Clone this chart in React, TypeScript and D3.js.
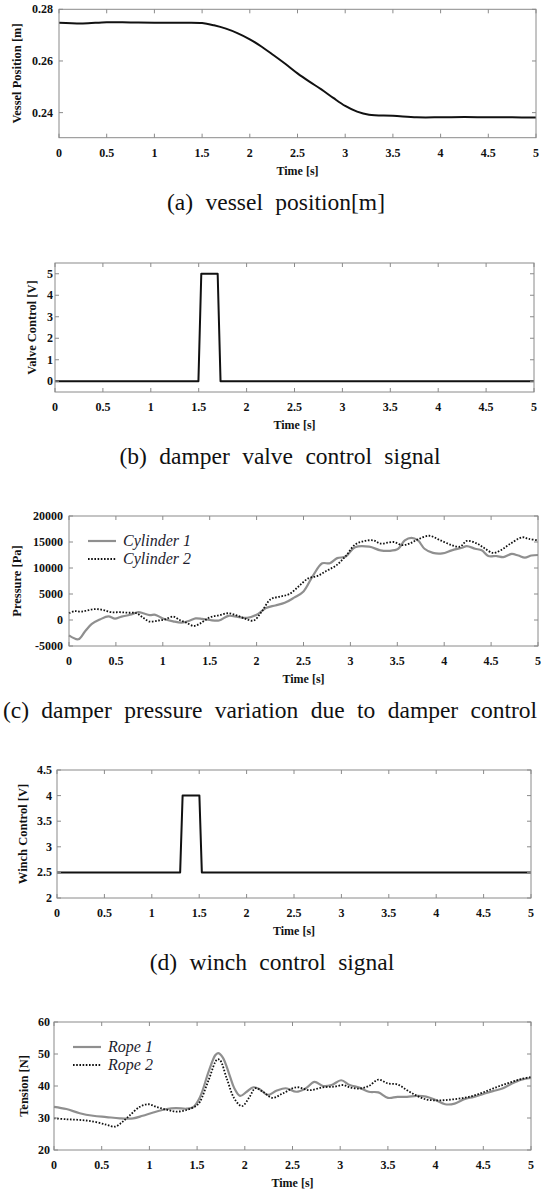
import React from "react";
import * as d3 from "d3";

// ---------------- DATA ----------------
const xTicks = [0, 0.5, 1, 1.5, 2, 2.5, 3, 3.5, 4, 4.5, 5];

// (a) vessel position [m]
const vesselT = [0, 0.25, 0.5, 0.75, 1.0, 1.25, 1.5, 1.625, 1.75, 1.875, 2.0, 2.125, 2.25, 2.375, 2.5, 2.625, 2.75, 2.875, 3.0, 3.125, 3.25, 3.5, 3.75, 4.0, 4.25, 4.5, 4.75, 5.0];
const vesselV = [0.2748, 0.2745, 0.275, 0.2749, 0.2748, 0.2748, 0.2747, 0.2738, 0.2725, 0.2707, 0.2684, 0.2655, 0.2622, 0.2588, 0.2552, 0.252, 0.249, 0.2457, 0.2426, 0.2404, 0.2392, 0.2388, 0.2382, 0.2382, 0.2383, 0.2382, 0.2382, 0.2381];

// (b) damper valve control signal [V]
const valveT = [0, 1.497, 1.527, 1.698, 1.728, 5];
const valveV = [0, 0, 5, 5, 0, 0];

// (c) damper pressure [Pa]
const cyl1T = [0, 0.1, 0.17, 0.24, 0.33, 0.42, 0.49, 0.56, 0.65, 0.74, 0.79, 0.86, 0.92, 1.0, 1.11, 1.2, 1.29, 1.35, 1.42, 1.5, 1.6, 1.7, 1.8, 1.9, 2.0, 2.1, 2.2, 2.3, 2.4, 2.5, 2.6, 2.7, 2.78, 2.86, 2.95, 3.05, 3.2, 3.32, 3.42, 3.51, 3.58, 3.65, 3.72, 3.79, 3.88, 3.98, 4.08, 4.19, 4.24, 4.33, 4.4, 4.47, 4.56, 4.63, 4.72, 4.79, 4.86, 4.93, 5.0];
const cyl1V = [-2950, -3700, -2200, -800, 100, 700, 250, 650, 1000, 1500, 1300, 950, 1000, 300, -250, -500, -100, 300, 200, 0, -100, 800, 600, 400, 1000, 2300, 2800, 3300, 4300, 5500, 8500, 10900, 10900, 11900, 12200, 14000, 14100, 13400, 13300, 13700, 15300, 15800, 15300, 13700, 12900, 12800, 13400, 13900, 14200, 13700, 13400, 12300, 12300, 12100, 12700, 12400, 12000, 12400, 12500];
const cyl2T = [0, 0.06, 0.13, 0.21, 0.29, 0.37, 0.45, 0.54, 0.63, 0.72, 0.79, 0.86, 0.95, 1.02, 1.11, 1.18, 1.25, 1.33, 1.4, 1.5, 1.6, 1.7, 1.8, 1.9, 1.97, 2.05, 2.15, 2.25, 2.35, 2.45, 2.55, 2.65, 2.75, 2.85, 2.95, 3.05, 3.15, 3.25, 3.32, 3.46, 3.55, 3.63, 3.72, 3.84, 3.95, 4.08, 4.17, 4.24, 4.35, 4.43, 4.52, 4.6, 4.7, 4.83, 4.9, 5.0];
const cyl2V = [1300, 1700, 1600, 1900, 2100, 1900, 1500, 1500, 1400, 1300, 450, -300, -100, 100, 650, 0, -500, -1150, -650, 500, 900, 1300, 800, 100, -100, 1500, 4000, 4500, 5000, 6500, 8000, 8500, 9500, 10500, 12300, 14500, 15200, 15300, 14700, 15000, 14400, 14700, 15500, 16200, 15400, 14400, 14100, 15200, 14700, 13800, 12900, 13400, 14600, 15900, 15600, 15300];

// (d) winch control signal [V]
const winchT = [0, 1.299, 1.325, 1.502, 1.528, 5];
const winchV = [2.5, 2.5, 4, 4, 2.5, 2.5];

// (e) rope tension [N]
const rope1T = [0, 0.13, 0.27, 0.41, 0.55, 0.69, 0.83, 0.93, 1.04, 1.18, 1.28, 1.39, 1.46, 1.53, 1.62, 1.69, 1.72, 1.77, 1.84, 1.89, 1.95, 2.02, 2.09, 2.16, 2.24, 2.33, 2.43, 2.54, 2.64, 2.73, 2.82, 2.91, 3.01, 3.1, 3.2, 3.3, 3.4, 3.5, 3.6, 3.7, 3.8, 3.9, 4.0, 4.1, 4.2, 4.3, 4.4, 4.5, 4.6, 4.7, 4.8, 4.9, 5.0];
const rope1V = [33.5, 32.8, 31.5, 30.7, 30.3, 29.9, 29.9, 30.7, 31.7, 32.8, 33.1, 32.9, 33.4, 36.5, 44.4, 49.6, 50.3, 48.9, 43.4, 39.3, 36.9, 38.2, 39.6, 38.9, 37.2, 38.5, 39.3, 38.2, 39.3, 41.3, 40.0, 40.3, 41.8, 40.3, 39.5, 38.2, 38.0, 36.3, 36.6, 36.6, 36.9, 36.7, 35.6, 34.3, 34.5, 35.9, 36.6, 37.5, 38.4, 39.2, 40.8, 42.0, 42.5];
const rope2T = [0, 0.13, 0.27, 0.41, 0.55, 0.64, 0.71, 0.79, 0.9, 0.99, 1.07, 1.18, 1.28, 1.39, 1.49, 1.53, 1.62, 1.71, 1.74, 1.81, 1.89, 1.97, 2.05, 2.11, 2.19, 2.29, 2.4, 2.54, 2.68, 2.82, 2.94, 3.03, 3.1, 3.2, 3.3, 3.4, 3.5, 3.6, 3.7, 3.8, 3.9, 4.0, 4.1, 4.2, 4.3, 4.4, 4.5, 4.6, 4.7, 4.8, 4.9, 5.0];
const rope2V = [29.9, 29.6, 29.4, 28.9, 27.9, 27.3, 28.6, 30.7, 33.5, 34.3, 33.5, 32.6, 32.0, 32.5, 33.8, 35.1, 41.8, 48.3, 48.1, 42.4, 36.1, 33.7, 36.6, 39.3, 38.2, 36.3, 37.7, 39.6, 38.7, 39.6, 39.8, 40.3, 39.6, 39.2, 40.0, 42.0, 40.8, 40.5, 38.7, 37.0, 35.8, 35.5, 35.6, 35.9, 36.3, 37.0, 38.0, 39.2, 40.3, 41.3, 42.2, 42.8];

// ---------------- STYLE ----------------
const SERIF = "'Liberation Serif', 'Times New Roman', Times, serif";
const BOX = "#8a8a8a";
const GRAY_LINE = "#8f8f8f";

type Series = { t: number[]; v: number[]; color: string; width: number; dash?: string; curve: any };
type Legend = { x: number; y: number; items: { label: string; color: string; width: number; dash?: string }[] };

type PanelProps = {
  left: number; right: number; top: number; bottom: number;
  yDomain: [number, number]; yTicks: number[]; yFmt: (v: number) => string;
  yTitle: string; yTitleX: number; yLabelGap: number;
  caption: string; captionX: number; captionWS: number;
  series: Series[]; legend?: Legend;
};

function Panel(p: PanelProps) {
  const x = d3.scaleLinear().domain([0, 5]).range([p.left, p.right]);
  const y = d3.scaleLinear().domain(p.yDomain).range([p.bottom, p.top]);
  const tk = 4;
  const cy = (p.top + p.bottom) / 2;
  return (
    <g>
      {p.series.map((s, i) => {
        const line = d3.line<number>().x((_, j) => x(s.t[j])).y((d) => y(d)).curve(s.curve);
        return (
          <path key={i} d={line(s.v) || ""} fill="none" stroke={s.color} strokeWidth={s.width}
            strokeDasharray={s.dash} strokeLinejoin="round" />
        );
      })}
      <rect x={p.left} y={p.top} width={p.right - p.left} height={p.bottom - p.top} fill="none" stroke={BOX} strokeWidth={1} />
      {xTicks.map((t) => (
        <g key={"x" + t}>
          <line x1={x(t)} x2={x(t)} y1={p.bottom} y2={p.bottom - tk} stroke={BOX} />
          <line x1={x(t)} x2={x(t)} y1={p.top} y2={p.top + tk} stroke={BOX} />
          <text x={x(t)} y={p.bottom + 19} textAnchor="middle" fontFamily={SERIF} fontWeight="bold" fontSize={12} fill="#111">{String(t)}</text>
        </g>
      ))}
      {p.yTicks.map((v) => (
        <g key={"y" + v}>
          <line x1={p.left} x2={p.left + tk} y1={y(v)} y2={y(v)} stroke={BOX} />
          <line x1={p.right} x2={p.right - tk} y1={y(v)} y2={y(v)} stroke={BOX} />
          <text x={p.left - p.yLabelGap} y={y(v) + 4} textAnchor="end" fontFamily={SERIF} fontWeight="bold" fontSize={12} fill="#111">{p.yFmt(v)}</text>
        </g>
      ))}
      <text x={(p.left + p.right) / 2} y={p.bottom + 37} textAnchor="middle" fontFamily={SERIF} fontWeight="bold" fontSize={12} fill="#111">Time [s]</text>
      <text transform={`translate(${p.yTitleX},${cy}) rotate(-90)`} textAnchor="middle" dominantBaseline="middle" fontFamily={SERIF} fontWeight="bold" fontSize={12.5} fill="#111">{p.yTitle}</text>
      {p.legend && p.legend.items.map((it, i) => (
        <g key={"l" + i}>
          <line x1={p.legend!.x} x2={p.legend!.x + 28} y1={p.legend!.y + i * 18} y2={p.legend!.y + i * 18} stroke={it.color} strokeWidth={it.width} strokeDasharray={it.dash} />
          <text x={p.legend!.x + 35} y={p.legend!.y + i * 18 + 5} fontFamily={SERIF} fontStyle="italic" fontSize={16} fill="#1c1c2e">{it.label}</text>
        </g>
      ))}
      <text x={p.captionX} y={p.bottom + 72} textAnchor="middle" fontFamily={SERIF} fontSize={23.5} wordSpacing={p.captionWS} fill="#111">{p.caption}</text>
    </g>
  );
}

export default function App() {
  const lin = d3.curveLinear;
  const smooth = d3.curveCatmullRom.alpha(0.5);
  const fmt2 = (v: number) => v.toFixed(2);
  const fmtN = (v: number) => String(v);
  return (
    <svg width={551} height={1189} style={{ position: "absolute", left: 0, top: 0, background: "#fff" }}>
      <Panel left={59} right={536} top={9.3} bottom={137.7} yDomain={[0.2303, 0.28]} yTicks={[0.24, 0.26, 0.28]} yFmt={fmt2}
        yTitle="Vessel Position [m]" yTitleX={18} yLabelGap={6}
        caption="(a) vessel position[m]" captionX={276} captionWS={6.5}
        series={[{ t: vesselT, v: vesselV, color: "#111", width: 2, curve: smooth }]} />
      <Panel left={55} right={534} top={263} bottom={392} yDomain={[-0.5, 5.5]} yTicks={[0, 1, 2, 3, 4, 5]} yFmt={fmtN}
        yTitle="Valve Control [V]" yTitleX={33} yLabelGap={2}
        caption="(b) damper valve control signal" captionX={280} captionWS={6.5}
        series={[{ t: valveT, v: valveV, color: "#111", width: 2, curve: lin }]} />
      <Panel left={69} right={538} top={516} bottom={646} yDomain={[-5000, 20000]} yTicks={[-5000, 0, 5000, 10000, 15000, 20000]} yFmt={fmtN}
        yTitle="Pressure [Pa]" yTitleX={18} yLabelGap={6}
        caption="(c) damper pressure variation due to damper control" captionX={270} captionWS={6.5}
        series={[
          { t: cyl1T, v: cyl1V, color: GRAY_LINE, width: 2.2, curve: smooth },
          { t: cyl2T, v: cyl2V, color: "#111", width: 1.8, dash: "1.6,1.6", curve: smooth },
        ]}
        legend={{ x: 88, y: 541, items: [
          { label: "Cylinder 1", color: GRAY_LINE, width: 2.2 },
          { label: "Cylinder 2", color: "#111", width: 1.8, dash: "1.6,1.6" },
        ] }} />
      <Panel left={57} right={531} top={770} bottom={898} yDomain={[2, 4.5]} yTicks={[2, 2.5, 3, 3.5, 4, 4.5]} yFmt={fmtN}
        yTitle="Winch Control [V]" yTitleX={24} yLabelGap={5}
        caption="(d) winch control signal" captionX={272} captionWS={6.5}
        series={[{ t: winchT, v: winchV, color: "#111", width: 2, curve: lin }]} />
      <Panel left={54} right={531} top={1022} bottom={1150} yDomain={[20, 60]} yTicks={[20, 30, 40, 50, 60]} yFmt={fmtN}
        yTitle="Tension [N]" yTitleX={25} yLabelGap={4}
        caption="" captionX={272} captionWS={6.5}
        series={[
          { t: rope1T, v: rope1V, color: GRAY_LINE, width: 2.2, curve: smooth },
          { t: rope2T, v: rope2V, color: "#111", width: 1.8, dash: "1.6,1.6", curve: smooth },
        ]}
        legend={{ x: 73, y: 1047, items: [
          { label: "Rope 1", color: GRAY_LINE, width: 2.2 },
          { label: "Rope 2", color: "#111", width: 1.8, dash: "1.6,1.6" },
        ] }} />
    </svg>
  );
}
